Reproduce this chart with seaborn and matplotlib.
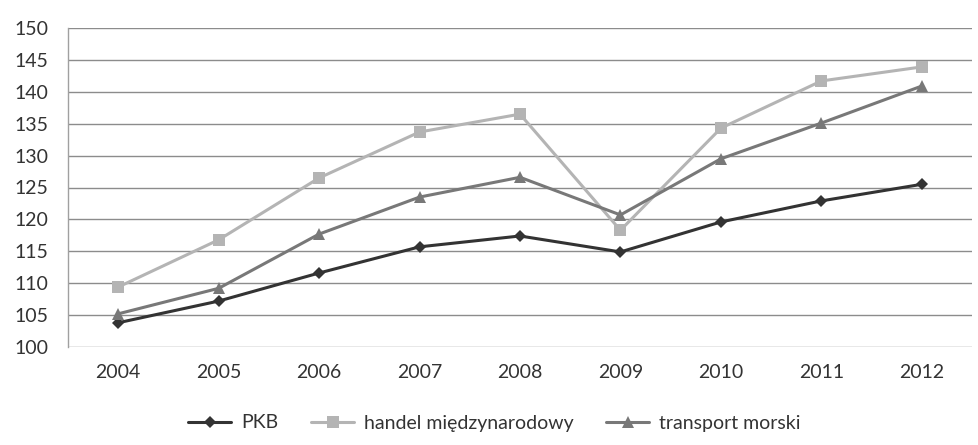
import matplotlib
matplotlib.use("Agg")
import matplotlib.pyplot as plt
import seaborn as sns
import pandas as pd

years = [2004, 2005, 2006, 2007, 2008, 2009, 2010, 2011, 2012]
pkb = [103.8, 107.2, 111.6, 115.7, 117.4, 114.9, 119.6, 122.9, 125.5]
handel = [109.4, 116.8, 126.5, 133.7, 136.5, 118.3, 134.3, 141.7, 143.9]
transport = [105.2, 109.2, 117.7, 123.5, 126.6, 120.7, 129.5, 135.1, 140.9]
series_names = ["PKB", "handel międzynarodowy", "transport morski"]
y_ticks = [100, 105, 110, 115, 120, 125, 130, 135, 140, 145, 150]

df = pd.DataFrame({
    "rok": years * 3,
    "wartość": pkb + handel + transport,
    "seria": [series_names[0]] * 9 + [series_names[1]] * 9 + [series_names[2]] * 9,
})

sns.set_theme(style="white")
plt.rcParams["font.family"] = ["Lato", "DejaVu Sans"]

fig = plt.figure(figsize=(9.79, 4.45), dpi=100)
ax = fig.add_axes([68 / 979, 1 - 347 / 445, 904 / 979, 319 / 445])

palette = {series_names[0]: "#333333", series_names[1]: "#b4b4b4", series_names[2]: "#787878"}
markers = {series_names[0]: "D", series_names[1]: "s", series_names[2]: "^"}
sizes = {series_names[0]: 6, series_names[1]: 8, series_names[2]: 8}

for name in series_names:
    sub = df[df["seria"] == name]
    sns.lineplot(data=sub, x="rok", y="wartość", ax=ax, color=palette[name],
                 marker=markers[name], markersize=sizes[name], markeredgewidth=0,
                 linewidth=2.2, label=name, legend=False)

ax.set_xlim(2003.5, 2012.5)
ax.set_ylim(100, 150)
ax.set_yticks(y_ticks)
ax.set_xticks(years)
ax.set_xticklabels([str(y) for y in years])
ax.grid(axis="y", color="#8c8c8c", linewidth=1.0)
ax.set_axisbelow(True)
for side in ["top", "right", "bottom"]:
    ax.spines[side].set_visible(False)
ax.spines["left"].set_color("#a0a0a0")
ax.spines["left"].set_linewidth(1.0)
ax.tick_params(axis="both", length=0, labelsize=14, colors="#333333")
ax.tick_params(axis="x", pad=12)
ax.tick_params(axis="y", pad=14)
ax.set_xlabel("")
ax.set_ylabel("")

handles, labels = ax.get_legend_handles_labels()
fig.legend(handles, labels, loc="center", bbox_to_anchor=(0.505, 1 - 423 / 445),
           ncol=3, frameon=False, fontsize=14, handlelength=2.2, columnspacing=1.7,
           handletextpad=0.5, labelcolor="#333333")

fig.savefig("out.png", dpi=100, facecolor="white")
